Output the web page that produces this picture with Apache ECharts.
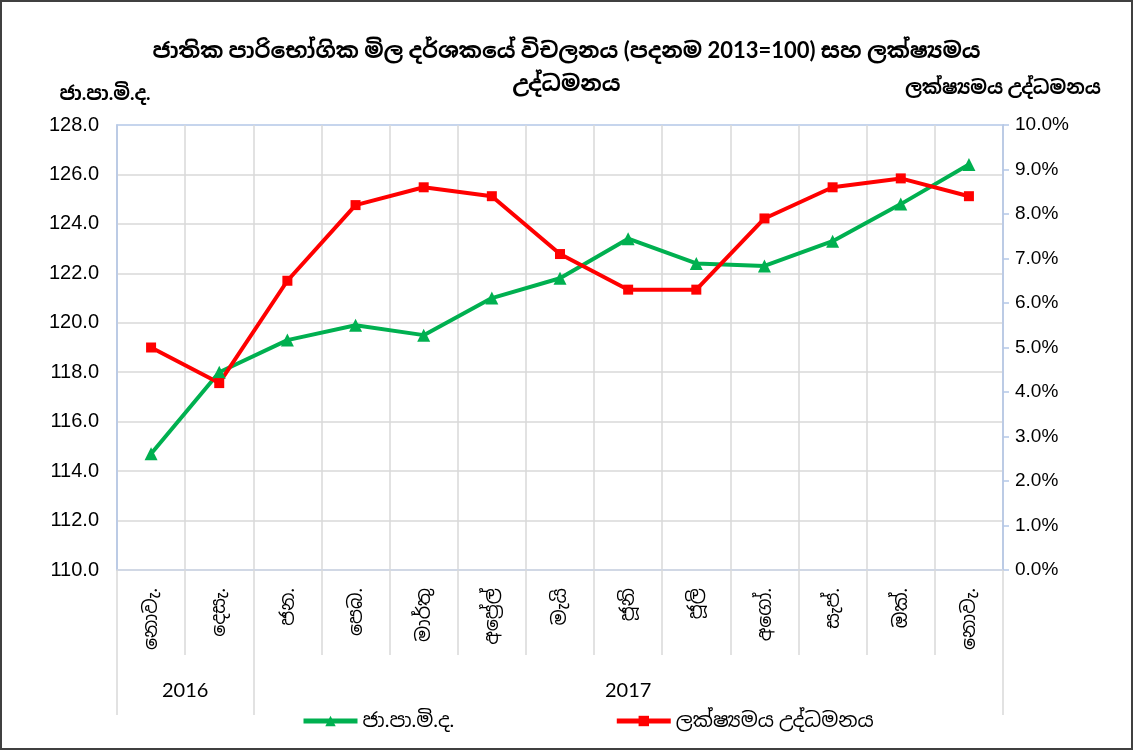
<!DOCTYPE html>
<html>
<head>
<meta charset="utf-8">
<script src="https://cdn.jsdelivr.net/npm/echarts@6/dist/echarts.min.js"></script>
<style>
  html, body { margin: 0; padding: 0; background: #fff; }
  #chart { width: 1129px; height: 746px; border: 2px solid #404040; }
</style>
</head>
<body>
<div id="chart"></div>
<script>
const months = ["නොවැ.", "දෙසැ.", "ජන.", "පෙබ.", "මාර්තු", "අප්‍රේල්", "මැයි", "ජූනි", "ජූලි", "අගෝ.", "සැප්.", "ඔක්.", "නොවැ."];
const years = ["2016", "2017"];
const yearSpans = [2, 11];
const ccpi = [114.7, 118.0, 119.3, 119.9, 119.5, 121.0, 121.8, 123.4, 122.4, 122.3, 123.3, 124.8, 126.4];
const inflation = [5.0, 4.2, 6.5, 8.2, 8.6, 8.4, 7.1, 6.3, 6.3, 7.9, 8.6, 8.8, 8.4];

const FONT = "Lato, 'Noto Sans Sinhala', 'Iskoola Pota', 'Noto Sans', sans-serif";
const NUM_FONT = "'Liberation Sans', Arial, sans-serif";

// year group edges and centres, in category units
const yearEdges = [0];
const yearCentres = [];
yearSpans.forEach((s) => {
  const start = yearEdges[yearEdges.length - 1];
  yearCentres.push(start + s / 2);
  yearEdges.push(start + s);
});
const monthEdges = months.map((m, i) => i).concat([months.length]);

const gridLine = { color: "#d9d9d9", width: 1.5 };

const chart = echarts.init(document.getElementById("chart"));

chart.setOption({
  animation: false,
  textStyle: { fontFamily: FONT, color: "#000" },
  title: {
    text: "ජාතික පාරිභෝගික මිල දර්ශකයේ විචලනය (පදනම 2013=100) සහ ලක්ෂ්‍යමය\nඋද්ධමනය",
    left: "center",
    top: 27,
    textStyle: { fontSize: 22, fontWeight: "bold", lineHeight: 33, color: "#000", fontFamily: FONT },
  },
  legend: {
    bottom: 12,
    left: 294,
    itemGap: 160,
    itemWidth: 54,
    itemHeight: 13,
    lineStyle: { width: 5 },
    textStyle: { fontSize: 20, color: "#000" },
    data: ["ජා.පා.මි.ද.", "ලක්ෂ්‍යමය උද්ධමනය"],
  },
  grid: {
    left: 115,
    right: 128,
    top: 123,
    bottom: 178,
    show: true,
    borderColor: "#b4c7e7",
    borderWidth: 1.5,
  },
  xAxis: [
    {
      type: "category",
      data: months,
      boundaryGap: true,
      axisLine: { lineStyle: { color: "#d0d8e8", width: 1.5 } },
      axisTick: { show: false },
      splitLine: { show: true, lineStyle: gridLine },
      axisLabel: { rotate: 90, fontSize: 19, margin: 18, color: "#000", interval: 0 },
    },
    {
      // month separators in the label band
      type: "value",
      position: "bottom",
      offset: 85,
      min: 0,
      max: months.length,
      axisLine: { show: false },
      splitLine: { show: false },
      axisLabel: { show: false },
      axisTick: { show: true, inside: true, length: 85, customValues: monthEdges, lineStyle: gridLine },
    },
    {
      // year groups
      type: "value",
      position: "bottom",
      offset: 85,
      min: 0,
      max: months.length,
      axisLine: { show: false },
      splitLine: { show: false },
      axisTick: { show: true, length: 60, customValues: yearEdges, lineStyle: gridLine },
      axisLabel: {
        customValues: yearCentres,
        fontSize: 20,
        margin: 26,
        color: "#000",
        formatter: (v) => years[yearCentres.indexOf(v)] || "",
      },
    },
  ],
  yAxis: [
    {
      type: "value",
      name: "ජා.පා.මි.ද.",
      nameLocation: "end",
      nameGap: 22,
      nameTextStyle: { fontSize: 19, fontWeight: "bold", color: "#000", padding: [0, 24, 0, 0] },
      min: 110,
      max: 128,
      interval: 2,
      position: "left",
      axisLine: { show: true, onZero: false, lineStyle: { color: "#b4c7e7", width: 1.5 } },
      axisTick: { show: false },
      axisLabel: { fontSize: 20, fontFamily: NUM_FONT, color: "#000", margin: 18, formatter: (v) => v.toFixed(1) },
      splitLine: { show: true, showMaxLine: false, lineStyle: gridLine },
    },
    {
      type: "value",
      name: "ලක්ෂ්‍යමය උද්ධමනය",
      nameLocation: "end",
      nameGap: 28,
      nameTextStyle: { fontSize: 19, fontWeight: "bold", color: "#000" },
      min: 0,
      max: 10,
      interval: 1,
      position: "right",
      axisLine: { show: true, onZero: false, lineStyle: { color: "#b4c7e7", width: 1.5 } },
      axisTick: { show: true, length: 6, lineStyle: { color: "#b4c7e7", width: 1.5 } },
      axisLabel: { fontSize: 19, fontFamily: NUM_FONT, color: "#000", margin: 12, formatter: (v) => v.toFixed(1) + "%" },
      splitLine: { show: false },
    },
  ],
  series: [
    {
      name: "ජා.පා.මි.ද.",
      type: "line",
      data: ccpi,
      yAxisIndex: 0,
      symbol: "triangle",
      symbolSize: 13,
      color: "#00b050",
      lineStyle: { width: 4 },
      itemStyle: { color: "#00b050" },
    },
    {
      name: "ලක්ෂ්‍යමය උද්ධමනය",
      type: "line",
      data: inflation,
      yAxisIndex: 1,
      symbol: "rect",
      symbolSize: 10,
      color: "#ff0000",
      lineStyle: { width: 4 },
      itemStyle: { color: "#ff0000" },
    },
  ],
});
</script>
</body>
</html>
